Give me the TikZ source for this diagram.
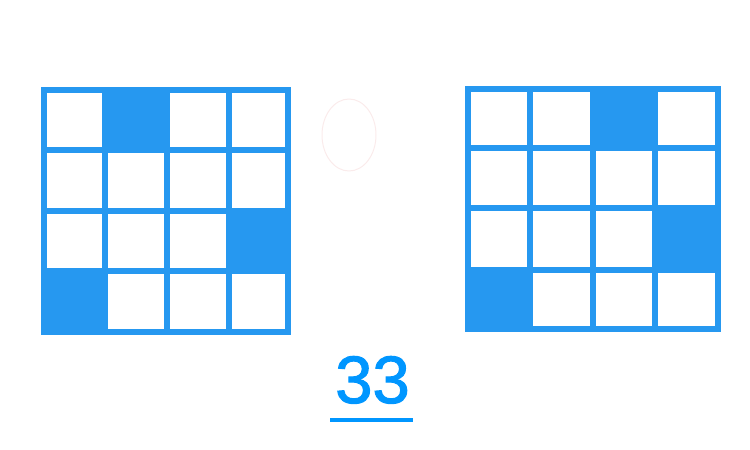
\documentclass[tikz,border=0pt]{standalone}
\usepackage{fontspec}
\setmainfont{Liberation Sans}
\newfontfamily\numfont[FakeBold=1.6]{Liberation Sans}
\definecolor{gridblue}{RGB}{38,152,240}
\definecolor{textblue}{RGB}{0,150,255}
\definecolor{faintpink}{RGB}{245,215,215}
\tikzset{
  gridline/.style={draw=gridblue, line width=6pt, line cap=rect},
  filledcell/.style={fill=gridblue},
  numlabel/.style={text=textblue, font=\numfont\fontsize{67}{67}\selectfont, inner sep=0pt, anchor=base},
  uline/.style={draw=textblue, line width=4pt}
}
\begin{document}
\begin{tikzpicture}[x=1pt,y=-1pt]
\useasboundingbox (0,0) rectangle (750,450);
% left grid
\fill[filledcell] (105,90) rectangle (167,150);
\fill[filledcell] (229,211) rectangle (288,271);
\fill[filledcell] (44,271) rectangle (105,332);
\foreach \x in {44,105,167,229,288} \draw[gridline] (\x,90) -- (\x,332);
\foreach \y in {90,150,211,271,332} \draw[gridline] (44,\y) -- (288,\y);
% right grid
\fill[filledcell] (593,89) rectangle (655,148);
\fill[filledcell] (655,208) rectangle (718,270);
\fill[filledcell] (468,270) rectangle (530,329);
\foreach \x in {468,530,593,655,718} \draw[gridline] (\x,89) -- (\x,329);
\foreach \y in {89,148,208,270,329} \draw[gridline] (468,\y) -- (718,\y);
% faint mark
\draw[faintpink, line width=1pt, opacity=0.5] (349,135) ellipse [x radius=27, y radius=36];
% label
\node[numlabel] (num) at (372.5,403) {33};
\coordinate (ua) at (330,420);
\coordinate (ub) at (413,420);
\draw[uline] (ua) -- (ub);
\end{tikzpicture}
\end{document}
